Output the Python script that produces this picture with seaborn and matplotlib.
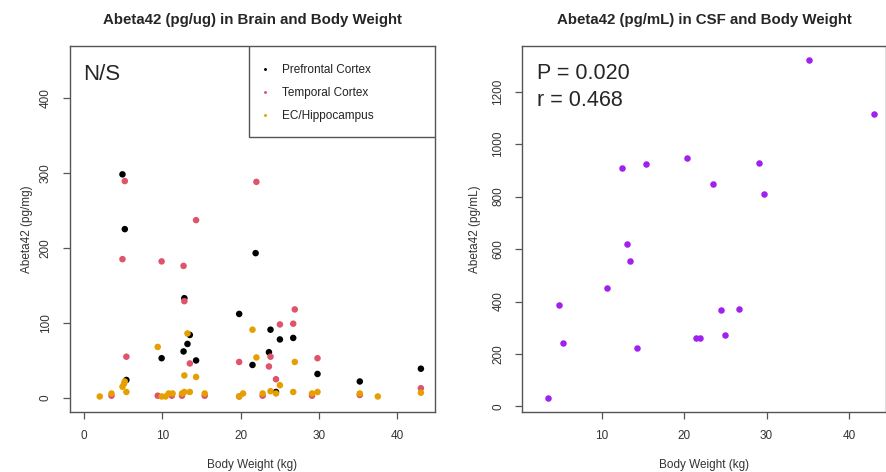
import pandas as pd
import seaborn as sns
import matplotlib.pyplot as plt
from matplotlib.patches import Rectangle

# Brain tissue levels vs body weight
pfc_x = [4.9, 5.2, 5.4, 9.9, 12.8, 12.7, 13.2, 13.5, 14.3, 19.8, 21.5, 21.9, 23.6, 23.8, 24.5, 25.0, 26.7, 29.8, 35.2, 43.0]
pfc_y = [298, 225, 24, 53, 133, 62, 72, 84, 50, 112, 44, 193, 61, 91, 8, 78, 80, 32, 22, 39]

tc_x = [3.5, 4.9, 5.2, 5.4, 9.4, 9.9, 11.2, 12.5, 12.7, 12.8, 13.5, 14.3, 15.4, 19.8, 19.8, 22.0, 22.8, 23.6, 23.8, 24.5,
        25.0, 26.7, 26.9, 29.1, 29.8, 35.2, 43.0]
tc_y = [3, 185, 289, 55, 3, 182, 3, 3, 176, 129, 46, 237, 3, 48, 2, 288, 3, 42, 55, 25,
        98, 99, 118, 3, 53, 4, 13]

hip_x = [2.0, 3.5, 4.9, 5.1, 5.2, 5.4, 9.4, 9.9, 10.4, 10.8, 11.3, 12.5, 12.8, 12.8, 13.2, 13.5, 14.3, 15.4, 19.8, 20.3,
         21.5, 22.0, 22.8, 23.8, 24.5, 25.0, 26.7, 26.9, 29.1, 29.8, 35.2, 37.5, 43.0]
hip_y = [2, 6, 15, 19, 22, 8, 68, 2, 2, 6, 6, 6, 30, 8, 86, 8, 28, 6, 2, 6,
         91, 54, 6, 9, 6, 17, 8, 48, 6, 8, 6, 2, 7]

regions = ["Prefrontal Cortex", "Temporal Cortex", "EC/Hippocampus"]
region_colors = ["black", "#DF536B", "#E69F00"]

# CSF levels vs body weight
csf_x = [3.5, 4.85, 5.3, 10.6, 12.4, 13.1, 13.4, 14.25, 15.4, 20.4, 21.4, 21.9, 23.5, 24.5, 25.0, 26.7, 29.1, 29.7, 35.15, 43.0]
csf_y = [32, 387, 240, 453, 908, 620, 555, 223, 923, 947, 262, 262, 849, 369, 273, 372, 929, 808, 1320, 1115]

brain = pd.concat([
    pd.DataFrame({"weight": pfc_x, "abeta": pfc_y, "region": regions[0]}),
    pd.DataFrame({"weight": tc_x, "abeta": tc_y, "region": regions[1]}),
    pd.DataFrame({"weight": hip_x, "abeta": hip_y, "region": regions[2]}),
], ignore_index=True)
csf = pd.DataFrame({"weight": csf_x, "abeta": csf_y})

sns.set_style("white")
plt.rcParams["font.family"] = ["Liberation Sans", "DejaVu Sans"]

fig = plt.figure(figsize=(8.87, 4.72), dpi=100)
ax1 = fig.add_axes([0.0789, 0.1271, 0.4115, 0.7754])
ax2 = fig.add_axes([0.5888, 0.1271, 0.4101, 0.7754])

sns.scatterplot(data=brain, x="weight", y="abeta", hue="region", hue_order=regions,
                palette=region_colors, s=22, linewidth=0, ax=ax1)
sns.scatterplot(data=csf, x="weight", y="abeta", color="#A020F0", s=22, linewidth=0, ax=ax2)

ax1.set_xlim(-1.8, 44.8)
ax1.set_ylim(-18.7, 469)
ax1.set_xticks([0, 10, 20, 30, 40])
ax1.set_yticks([0, 100, 200, 300, 400])
ax2.set_xlim(0.35, 44.5)
ax2.set_ylim(-21.3, 1374)
ax2.set_xticks([10, 20, 30, 40])
ax2.set_yticks([0, 200, 400, 600, 800, 1000, 1200])

for ax, title, ylab, ypad in [(ax1, "Abeta42 (pg/ug) in Brain and Body Weight", "Abeta42 (pg/mg)", 5),
                              (ax2, "Abeta42 (pg/mL) in CSF and Body Weight", "Abeta42 (pg/mL)", 8)]:
    ax.set_title(title, fontsize=10.8, fontweight="bold", pad=16)
    ax.set_xlabel("Body Weight (kg)", fontsize=8.5, color="#333333", labelpad=12)
    ax.set_ylabel(ylab, fontsize=8.5, color="#333333", labelpad=ypad)
    ax.tick_params(axis="both", direction="out", length=5, width=0.9, color="#555555",
                   labelsize=8.5, labelcolor="#333333", pad=8, left=True, bottom=True)
    for lab in ax.get_yticklabels():
        lab.set_rotation(90)
        lab.set_va("center")
    for sp in ax.spines.values():
        sp.set_color("#555555")
        sp.set_linewidth(1.0)

ax1.text(0.035, 0.922, "N/S", transform=ax1.transAxes, fontsize=16, va="center", ha="left")
ax2.text(0.04, 0.926, "P = 0.020", transform=ax2.transAxes, fontsize=15.5, va="center", ha="left")
ax2.text(0.04, 0.85, "r = 0.468", transform=ax2.transAxes, fontsize=15.5, va="center", ha="left")

# R-style legend box: wide frame drawn separately, entries placed inside
ax1.add_patch(Rectangle((0.4896, 0.7514), 0.5104, 0.2486, transform=ax1.transAxes,
                        facecolor="white", edgecolor="#555555", linewidth=1.0, zorder=4))
leg = ax1.legend(loc="upper left", bbox_to_anchor=(0.5178, 0.9508), borderaxespad=0, borderpad=0,
                 frameon=False, fontsize=8.5, markerscale=0.45, labelspacing=0.95,
                 handletextpad=0.94, handlelength=1.0)
leg.set_zorder(5)
for t in leg.get_texts():
    t.set_color("#222222")

fig.savefig("out.png", dpi=100)
